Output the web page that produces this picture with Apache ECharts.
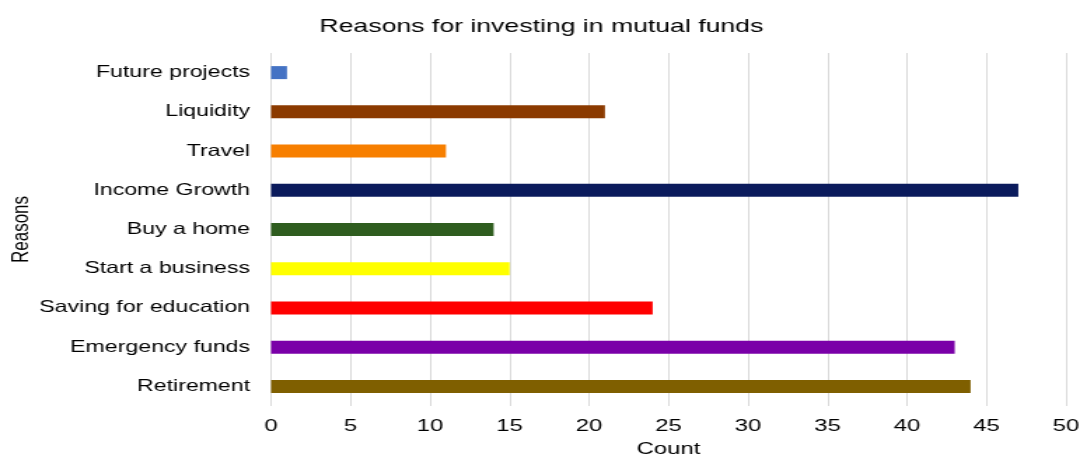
<!DOCTYPE html>
<html>
<head>
<meta charset="utf-8">
<script src="https://cdn.jsdelivr.net/npm/echarts@6/dist/echarts.min.js"></script>
<style>
  html, body { margin: 0; padding: 0; background: #fff; overflow: hidden; }
  /* the reference is a horizontally stretched picture, so draw narrow and stretch it */
  #main { width: 771px; height: 454px; transform: scaleX(1.4008); transform-origin: 0 0; }
</style>
</head>
<body>
<div id="main"></div>
<script>
// bottom to top, as echarts category axis draws them
const reasons = ['Retirement', 'Emergency funds', 'Saving for education', 'Start a business',
  'Buy a home', 'Income Growth', 'Travel', 'Liquidity', 'Future projects'];
const counts = [44, 43, 24, 15, 14, 47, 11, 21, 1];
const barColors = ['#7f5f00', '#7a00a8', '#ff0000', '#ffff00',
  '#2f5d1f', '#0b1b5c', '#f77f00', '#8b3a00', '#4472c4'];
const countTicks = { min: 0, max: 50, interval: 5 };

const font = 'Liberation Sans, Arial, sans-serif';
const chart = echarts.init(document.getElementById('main'));

chart.setOption({
  animation: false,
  title: {
    text: 'Reasons for investing in mutual funds',
    left: 381.5,
    top: 12,
    textAlign: 'center',
    textStyle: { fontFamily: font, fontSize: 19, fontWeight: 'normal', color: '#000' }
  },
  grid: { left: 193.5, right: 10, top: 53, bottom: 48, outerBoundsMode: 'none', containLabel: false },
  xAxis: {
    type: 'value',
    min: countTicks.min,
    max: countTicks.max,
    interval: countTicks.interval,
    name: 'Count',
    nameLocation: 'middle',
    nameGap: 35,
    nameTextStyle: { fontFamily: font, fontSize: 17, color: '#000' },
    axisLine: { show: false },
    axisTick: { show: false },
    axisLabel: { fontFamily: font, fontSize: 17, color: '#000', margin: 12 },
    splitLine: { lineStyle: { color: '#d9d9d9', width: 1 } }
  },
  yAxis: {
    type: 'category',
    data: reasons,
    name: 'Reasons',
    nameLocation: 'middle',
    nameGap: 170,
    nameMoveOverlap: false,
    nameRotate: 90,
    nameTextStyle: { fontFamily: font, fontSize: 17, color: '#000' },
    axisLine: { show: false },
    axisTick: { show: false },
    axisLabel: { fontFamily: font, fontSize: 16.5, color: '#000', margin: 15 }
  },
  series: [{
    type: 'bar',
    barWidth: 13,
    data: counts.map((v, i) => ({ value: v, itemStyle: { color: barColors[i] } }))
  }]
});
</script>
</body>
</html>
